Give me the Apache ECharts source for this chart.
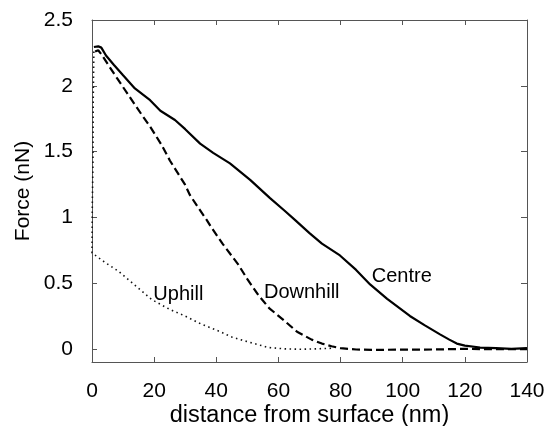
<!DOCTYPE html>
<html>
<head>
<meta charset="utf-8">
<script src="https://cdn.jsdelivr.net/npm/echarts@6/dist/echarts.min.js"></script>
<style>html,body{margin:0;padding:0;background:#fff}#c{width:551px;height:426px}</style>
</head>
<body>
<div id="c"></div>
<script>
// Data
const xTicks = [0, 20, 40, 60, 80, 100, 120, 140];
const yTicks = [0, 0.5, 1, 1.5, 2, 2.5];

const centreX = [0.6, 2, 3, 4.5, 7, 10, 13.8, 18.7, 22, 26.7, 30, 34.8, 39, 44.4, 50.9, 57.3, 62, 65.3, 70, 74, 79.8, 85, 89.5, 95, 102.3, 107, 112, 115, 117.4, 120, 124.9, 130, 135, 140];
const centreY = [2.295, 2.30, 2.29, 2.23, 2.16, 2.08, 1.98, 1.89, 1.81, 1.74, 1.67, 1.56, 1.49, 1.41, 1.285, 1.146, 1.05, 0.98, 0.88, 0.80, 0.71, 0.60, 0.49, 0.38, 0.25, 0.18, 0.11, 0.07, 0.04, 0.025, 0.01, 0.005, 0.0, 0.005];

const downhillX = [1, 2, 3, 5.2, 8, 11.7, 16, 18.7, 22.4, 25.1, 29.9, 31.5, 34, 36.9, 38.5, 42, 47.1, 50, 53.5, 57, 62.1, 66, 70.7, 74, 77.1, 80, 85, 90, 100, 110, 120, 130, 140];
const downhillY = [2.26, 2.27, 2.24, 2.16, 2.06, 1.93, 1.78, 1.69, 1.55, 1.43, 1.25, 1.17, 1.08, 0.98, 0.92, 0.80, 0.64, 0.53, 0.41, 0.31, 0.21, 0.13, 0.07, 0.04, 0.02, 0.005, -0.005, -0.008, -0.006, -0.005, 0.0, -0.003, -0.002];

const uphillX = [0.6, 0.4, 0.3, 0.1, 0, 4, 8.5, 13, 19.2, 25, 29.9, 35, 40.7, 45, 49.2, 53, 56.8, 62, 67.5, 72, 78];
const uphillY = [2.26, 1.9, 1.4, 1.1, 0.73, 0.66, 0.59, 0.50, 0.375, 0.30, 0.25, 0.19, 0.136, 0.09, 0.06, 0.035, 0.01, 0.0, -0.003, 0.0, 0.005];

const labelNames = ['Uphill', 'Downhill', 'Centre'];
const labelX = [27.8, 67.5, 99.7];
const labelY = [0.414, 0.427, 0.553];

const FONT = "'Liberation Sans', Arial, sans-serif";
const zip = (xs, ys) => xs.map((x, i) => [x, ys[i]]);

function labelPoint(i) {
  return {
    symbol: 'circle', symbolSize: 0,
    data: [{ coord: [labelX[i], labelY[i]], value: labelNames[i] }],
    label: { show: true, position: 'inside', formatter: labelNames[i], color: '#000', fontSize: 20, fontFamily: FONT },
    itemStyle: { color: 'transparent' }
  };
}

const axisLineStyle = { color: '#555', width: 1 };

const chart = echarts.init(document.getElementById('c'), null, { renderer: 'canvas' });
chart.setOption({
  animation: false,
  backgroundColor: '#fff',
  grid: { left: 92, right: 24, top: 20, bottom: 64, containLabel: false, outerBoundsMode: 'none' },
  xAxis: [{
    type: 'value', min: xTicks[0], max: xTicks[xTicks.length - 1], interval: 20,
    name: 'distance from surface (nm)', nameLocation: 'middle', nameGap: 42, nameMoveOverlap: false,
    nameTextStyle: { color: '#000', fontSize: 23.5, fontFamily: FONT },
    axisLine: { show: true, onZero: false, lineStyle: axisLineStyle },
    axisTick: { show: true, inside: true, length: 5, lineStyle: axisLineStyle },
    axisLabel: { color: '#000', fontSize: 21, fontFamily: FONT, margin: 19 },
    splitLine: { show: false }
  }, {
    type: 'value', position: 'top', min: xTicks[0], max: xTicks[xTicks.length - 1], interval: 20,
    axisLine: { show: true, onZero: false, lineStyle: axisLineStyle },
    axisTick: { show: true, inside: true, length: 5, lineStyle: axisLineStyle },
    axisLabel: { show: false }, splitLine: { show: false }
  }],
  yAxis: [{
    type: 'value', min: -0.1, max: 2.5,
    name: 'Force (nN)', nameLocation: 'middle', nameGap: 58, nameRotate: 90, nameMoveOverlap: false,
    nameTextStyle: { color: '#000', fontSize: 21, fontFamily: FONT },
    axisLine: { show: true, onZero: false, lineStyle: axisLineStyle },
    axisTick: { show: true, inside: true, length: 5, lineStyle: axisLineStyle, customValues: yTicks },
    axisLabel: { color: '#000', fontSize: 21, fontFamily: FONT, margin: 19, customValues: yTicks },
    splitLine: { show: false }
  }, {
    type: 'value', position: 'right', min: -0.1, max: 2.5,
    axisLine: { show: true, onZero: false, lineStyle: axisLineStyle },
    axisTick: { show: true, inside: true, length: 6, lineStyle: axisLineStyle, customValues: yTicks },
    axisLabel: { show: false, customValues: yTicks }, splitLine: { show: false }
  }],
  series: [{
    name: 'Centre', type: 'line', data: zip(centreX, centreY), showSymbol: false, symbol: 'none',
    lineStyle: { color: '#000', width: 2.2 }, z: 3, markPoint: labelPoint(2)
  }, {
    name: 'Downhill', type: 'line', data: zip(downhillX, downhillY), showSymbol: false, symbol: 'none',
    lineStyle: { color: '#000', width: 2.2, type: [8, 4] }, z: 3, markPoint: labelPoint(1)
  }, {
    name: 'Uphill', type: 'line', data: zip(uphillX, uphillY), showSymbol: false, symbol: 'none',
    lineStyle: { color: '#111', width: 1.6, type: [1.5, 3.5] }, z: 3, markPoint: labelPoint(0)
  }]
});
</script>
</body>
</html>
